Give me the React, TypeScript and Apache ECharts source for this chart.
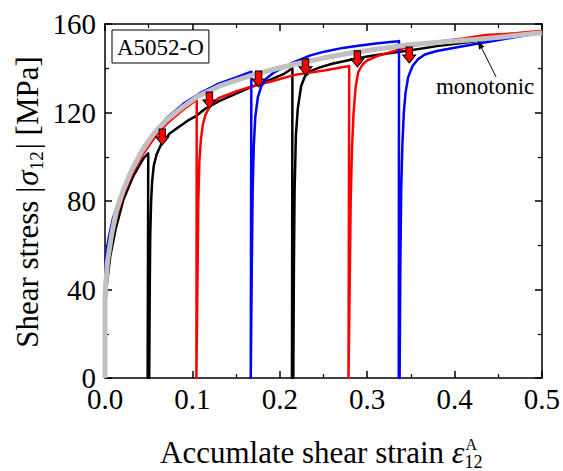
import React, { useEffect, useRef } from "react";
import * as echarts from "echarts";

const FONT = "Liberation Serif";

// x-axis / y-axis ticks
const xTicks = [0, 0.1, 0.2, 0.3, 0.4, 0.5];
const yTicks = [0, 40, 80, 120, 160];

// Monotonic test (gray)
const monoStrain = [0, 0, 0.0027, 0.0076, 0.013, 0.021, 0.03, 0.042, 0.055, 0.07, 0.089, 0.107, 0.13, 0.15, 0.167, 0.19, 0.217, 0.25, 0.28, 0.31, 0.348, 0.39, 0.424, 0.46, 0.5];
const monoStress = [0, 37, 52, 65, 75.5, 85, 93.5, 102.5, 110, 116.5, 122.5, 127.5, 131.8, 134.5, 136.7, 139.2, 141.8, 144.6, 146.8, 148.6, 150.6, 152, 153, 154.4, 156];

// Black specimen (reversals at ~0.05 and ~0.215)
const blackStrain = [0, 0, 0.002, 0.006, 0.012, 0.021, 0.032, 0.044, 0.0495, 0.0488, 0.0506, 0.0512, 0.0518, 0.0528, 0.054, 0.0558, 0.059, 0.0647, 0.074, 0.0856, 0.0946, 0.1046, 0.114, 0.13, 0.15, 0.167, 0.19, 0.205, 0.2145, 0.214, 0.2155, 0.2162, 0.217, 0.2185, 0.2207, 0.2245, 0.229, 0.235, 0.245, 0.26, 0.28, 0.3, 0.325, 0.348, 0.38, 0.42, 0.46, 0.5];
const blackStress = [0, 30, 42, 55, 67, 80.5, 91, 99.3, 101.5, 0, 0, 40, 65, 80, 89, 96, 101, 106, 110.5, 113.8, 116.3, 118.5, 121.5, 125, 128.5, 131.5, 135, 137.5, 140, 0, 0, 50, 85, 110, 122, 132, 136.5, 138.6, 140.3, 142, 143.7, 145.3, 146.8, 148, 150, 152, 154, 156];

// Red specimen (reversals at ~0.105 and ~0.279)
const redStrain = [0, 0, 0.003, 0.008, 0.014, 0.022, 0.032, 0.044, 0.057, 0.072, 0.09, 0.105, 0.1046, 0.1054, 0.106, 0.1068, 0.108, 0.1098, 0.112, 0.115, 0.12, 0.13, 0.15, 0.167, 0.19, 0.217, 0.251, 0.2795, 0.2787, 0.2795, 0.2803, 0.2812, 0.2827, 0.2845, 0.287, 0.29, 0.295, 0.3, 0.31, 0.32, 0.348, 0.38, 0.41, 0.436, 0.47, 0.5];
const redStress = [0, 35, 51, 64, 74, 84, 93, 101.5, 108.8, 115.5, 121.5, 125.8, 0, 0, 50, 80, 98, 108, 114.5, 119, 122.8, 126.5, 129.5, 131.7, 134, 137, 139, 141, 0, 0, 50, 80, 104, 120, 132, 138.5, 141.8, 143.5, 145.3, 146.5, 149.8, 152, 153.5, 155, 155.8, 157];

// Blue specimen (reversals at ~0.167 and ~0.337)
const blueStrain = [0, 0, 0.001, 0.004, 0.009, 0.016, 0.024, 0.033, 0.044, 0.057, 0.072, 0.09, 0.11, 0.13, 0.15, 0.1675, 0.1668, 0.1672, 0.168, 0.169, 0.1703, 0.172, 0.175, 0.179, 0.185, 0.193, 0.2, 0.215, 0.235, 0.251, 0.272, 0.29, 0.31, 0.335, 0.3365, 0.3362, 0.3372, 0.338, 0.339, 0.3403, 0.342, 0.344, 0.347, 0.352, 0.358, 0.366, 0.38, 0.4, 0.424, 0.462, 0.5];
const blueStress = [0, 42, 55, 63, 72, 80.5, 88.5, 96.5, 104.5, 111.5, 118, 124, 129, 133, 135.8, 138.4, 0, 0, 50, 85, 105, 118, 127, 132, 135.5, 138, 139.5, 142.5, 145.8, 147.5, 149.2, 150.2, 151.2, 152.2, 152.3, 0, 0, 50, 85, 105, 120, 129, 136, 141, 144, 146.2, 147.8, 149.3, 151, 153.5, 156];

// Red arrows (tip positions)
const arrowStrain = [0.0656, 0.1195, 0.1758, 0.2295, 0.2888, 0.3482];
const arrowStress = [105.3, 122, 131.5, 137, 140.6, 142.4];

// annotation anchor on the monotonic curve
const monoLabel = "monotonic";
const monoAnchor = [0.427, 152.8];
const materialLabel = "A5052-O";

const zip = (xs: number[], ys: number[]) => xs.map((x, i) => [x, ys[i]]);

export default function App() {
  const ref = useRef<HTMLDivElement>(null);
  useEffect(() => {
    const chart = echarts.init(ref.current!, null, { renderer: "svg" });
    const ctx = document.createElement("canvas").getContext("2d")!;
    const measure = (t: string, size: number, italic = false) => {
      ctx.font = `${italic ? "italic " : ""}${size}px "${FONT}"`;
      return ctx.measureText(t).width;
    };
    const ts = (text: string, size: number, italic = false, align = "left") => ({
      text,
      fontSize: size,
      fontFamily: FONT,
      fontStyle: italic ? "italic" : "normal",
      fill: "#000",
      align,
      verticalAlign: "middle",
    });

    const axisCommon = {
      type: "value" as const,
      axisLine: { show: true, onZero: false, lineStyle: { color: "#000", width: 1.5 } },
      axisTick: { show: true, inside: true, length: 7, lineStyle: { color: "#000", width: 1.5 } },
      minorTick: { show: true, splitNumber: 2, length: 4, lineStyle: { color: "#000", width: 1.2 } },
      splitLine: { show: false },
      minorSplitLine: { show: false },
    };

    const lineSeries = (name: string, xs: number[], ys: number[], color: string, width: number, z: number) => ({
      name,
      type: "line",
      data: zip(xs, ys),
      showSymbol: false,
      symbol: "none",
      lineStyle: { color, width, join: "round" },
      z,
      silent: true,
    });

    // Axis titles built from measured pieces
    const tMainSize = 31;
    const xt0 = "Accumlate shear strain ";
    const xLeft = 160;
    const xMid = 452;
    const wx0 = measure(xt0, tMainSize);
    const wEps = measure("ε", 32, true);
    const xTitle = [
      { type: "text", x: xLeft, y: xMid, style: ts(xt0, tMainSize) },
      { type: "text", x: xLeft + wx0, y: xMid, style: ts("ε", 32, true) },
      { type: "text", x: xLeft + wx0 + wEps + 1, y: xMid - 8, style: ts("A", 16) },
      { type: "text", x: xLeft + wx0 + wEps, y: xMid + 10, style: ts("12", 18) },
    ];

    const y0 = "Shear stress |";
    const y1 = "σ";
    const y2 = "12";
    const y3 = "| [MPa]";
    const wy0 = measure(y0, tMainSize);
    const wy1 = measure(y1, tMainSize, true);
    const wy2 = measure(y2, 19);
    const wy3 = measure(y3, tMainSize);
    const L = wy0 + wy1 + wy2 + wy3 + 3;
    const s = -L / 2;
    const yTitle = {
      type: "group",
      x: 27,
      y: 202,
      rotation: Math.PI / 2,
      children: [
        { type: "text", x: s, y: 0, style: ts(y0, tMainSize) },
        { type: "text", x: s + wy0 + 1, y: 0, style: ts(y1, tMainSize, true) },
        { type: "text", x: s + wy0 + wy1 + 1, y: 9, style: ts(y2, 19) },
        { type: "text", x: s + wy0 + wy1 + wy2 + 3, y: 0, style: ts(y3, tMainSize) },
      ],
    };

    const matW = measure(materialLabel, 23);
    const boxGraphic = [
      { type: "rect", shape: { x: 112, y: 30, width: matW + 10, height: 33 }, style: { fill: "#fff", stroke: "#000", lineWidth: 1 }, z: 20 },
      { type: "text", x: 112 + (matW + 10) / 2, y: 47, style: ts(materialLabel, 23, false, "center"), z: 21 },
    ];

    const option: any = {
      animation: false,
      backgroundColor: "#fff",
      grid: { left: 105, right: 20, top: 24, bottom: 93, containLabel: false },
      xAxis: [
        {
          ...axisCommon,
          position: "bottom",
          min: xTicks[0],
          max: xTicks[xTicks.length - 1],
          interval: 0.1,
          axisLabel: { show: true, margin: 6, fontSize: 29, fontFamily: FONT, color: "#000", formatter: (v: number) => v.toFixed(1) },
        },
        {
          ...axisCommon,
          position: "top",
          min: xTicks[0],
          max: xTicks[xTicks.length - 1],
          interval: 0.1,
          axisLabel: { show: false },
        },
      ],
      yAxis: [
        {
          ...axisCommon,
          position: "left",
          min: yTicks[0],
          max: yTicks[yTicks.length - 1],
          interval: 40,
          axisLabel: { show: true, margin: 9, fontSize: 29, fontFamily: FONT, color: "#000" },
        },
        {
          ...axisCommon,
          position: "right",
          min: yTicks[0],
          max: yTicks[yTicks.length - 1],
          interval: 40,
          axisLabel: { show: false },
        },
      ],
      series: [
        lineSeries("black", blackStrain, blackStress, "#000000", 2.5, 2),
        lineSeries("red", redStrain, redStress, "#ff0000", 2.5, 3),
        lineSeries("blue", blueStrain, blueStress, "#0000ff", 2.5, 4),
        lineSeries("monotonic", monoStrain, monoStress, "#c0c0c0", 5, 5),
        {
          name: "arrows",
          type: "scatter",
          data: zip(arrowStrain, arrowStress),
          symbol: "path://M3,0 L9,0 L9,8 L12,8 L6,16 L0,8 L3,8 Z",
          symbolSize: [13, 16],
          symbolOffset: [0, "-50%"],
          itemStyle: { color: "#ff0000", borderColor: "#000", borderWidth: 1, opacity: 1 },
          z: 10,
          silent: true,
        },
      ],
      graphic: [...xTitle, yTitle, ...boxGraphic],
    };
    chart.setOption(option);

    const p = chart.convertToPixel({ seriesIndex: 3 }, monoAnchor) as number[];
    const tip = [p[0], p[1] + 1];
    const tail = [p[0] + 18, p[1] + 37];
    const dx = tip[0] - tail[0];
    const dy = tip[1] - tail[1];
    const len = Math.hypot(dx, dy);
    const ux = dx / len;
    const uy = dy / len;
    const hl = 8;
    const hw = 3;
    const bx = tip[0] - ux * hl;
    const by = tip[1] - uy * hl;
    const annot = [
      { type: "line", shape: { x1: tail[0], y1: tail[1], x2: bx, y2: by }, style: { stroke: "#000", lineWidth: 1 }, z: 20 },
      {
        type: "polygon",
        shape: { points: [tip, [bx - uy * hw, by + ux * hw], [bx + uy * hw, by - ux * hw]] },
        style: { fill: "#000" },
        z: 20,
      },
      { type: "text", x: p[0] + 7, y: p[1] + 47, style: ts(monoLabel, 23, false, "center"), z: 20 },
    ];
    chart.setOption({ graphic: [...xTitle, yTitle, ...boxGraphic, ...annot] });

    return () => chart.dispose();
  }, []);
  return <div ref={ref} style={{ position: "fixed", left: 0, top: 0, width: 563, height: 471 }} />;
}
